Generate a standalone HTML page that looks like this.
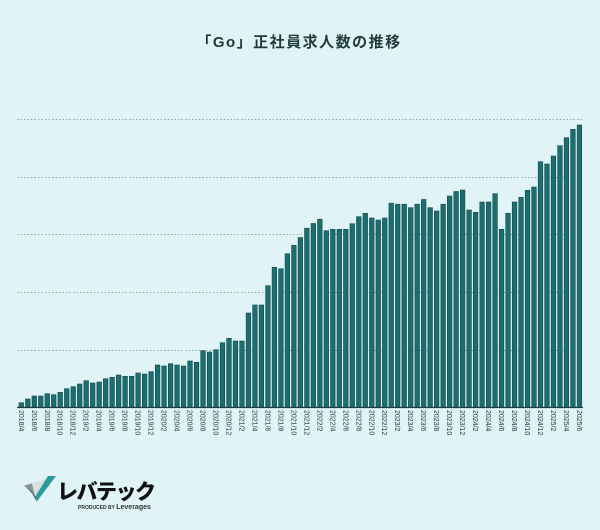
<!DOCTYPE html>
<html><head><meta charset="utf-8"><style>
html,body{margin:0;padding:0;background:#e0f3f6;}
svg{display:block;}
</style></head><body>
<svg width="600" height="530" viewBox="0 0 600 530" xmlns="http://www.w3.org/2000/svg">
<rect width="600" height="530" fill="#e0f3f6"/>
<text x="299" y="47" text-anchor="middle" font-family="'Liberation Sans','Noto Sans CJK JP',sans-serif" font-size="15" font-weight="bold" letter-spacing="1.5" fill="#1f3a3c">「Go」正社員求人数の推移</text>
<g stroke="#8fa9ad" stroke-width="1" stroke-dasharray="1.5,2">
<line x1="17" x2="583" y1="119.5" y2="119.5"/>
<line x1="17" x2="583" y1="177.5" y2="177.5"/>
<line x1="17" x2="583" y1="234.5" y2="234.5"/>
<line x1="17" x2="583" y1="292.5" y2="292.5"/>
<line x1="17" x2="583" y1="350.5" y2="350.5"/>
</g>
<line x1="17" x2="583" y1="407.5" y2="407.5" stroke="#1d3b3d" stroke-width="1.2"/>
<g id="bars" fill="#1b6f70" stroke="#14484a" stroke-width="0.6"></g>
<g id="labels" font-family="'Liberation Sans',sans-serif" font-size="7" fill="#2a3a3c"></g>
<g transform="translate(24,476) scale(0.8)">
<polygon points="0,12 10,9 14,26" fill="#8a9496"/>
<polygon points="10,9 28,4 14,26" fill="#d9dedf"/>
<polygon points="14,26 30,0 40,0 16,32" fill="#2a9aa0"/>
<polygon points="6,14 14,26 16,32" fill="#244a4c"/>
</g>
<text x="57" y="499" font-family="'Noto Sans CJK JP',sans-serif" font-size="21" font-weight="900" fill="#111" letter-spacing="-1.5">レバテック</text>
<text x="78" y="509" font-family="'Liberation Sans',sans-serif" font-size="5" font-weight="bold" fill="#333">PRODUCED BY <tspan font-size="7">Leverages</tspan></text>
</svg>
<script>
var tops=[402.7,399,396,396,393.7,394.7,392.3,388.7,386.7,384,380.7,383,382,378.7,377.3,375,376.3,376.3,373,374,371.7,365,366,363.7,365,366,361,362.3,350.7,352,349.7,342.7,338.3,341,341,313,305,305,285.7,267.3,268.7,253.7,245.3,237.5,228.2,223.5,219.2,230.7,229.3,229.3,229.3,223.7,216.7,213.3,218,220,218,203.2,204.2,204.2,207.7,204.2,199.5,207.7,211,204.2,196,191.5,190,210,212.3,202,202,193.7,229.3,213.3,202,197.3,190.3,187,161.7,164,156,145.7,137.7,129.3,125];
var ns="http://www.w3.org/2000/svg",b=document.getElementById('bars'),l=document.getElementById('labels');
for(var i=0;i<tops.length;i++){var x=19+6.49*i;var r=document.createElementNS(ns,'rect');r.setAttribute('x',x.toFixed(2));r.setAttribute('y',tops[i]);r.setAttribute('width','4.6');r.setAttribute('height',(407-tops[i]).toFixed(2));b.appendChild(r);
if(i%2==0){var m=4+i,y=2018+Math.floor((m-1)/12),mo=((m-1)%12)+1;var t=document.createElementNS(ns,'text');var cx=x+2.3-2.5,cy=410;t.setAttribute('transform','translate('+cx.toFixed(2)+','+cy+') rotate(90)');t.textContent=y+'/'+mo;l.appendChild(t);}}
</script>
</body></html>
